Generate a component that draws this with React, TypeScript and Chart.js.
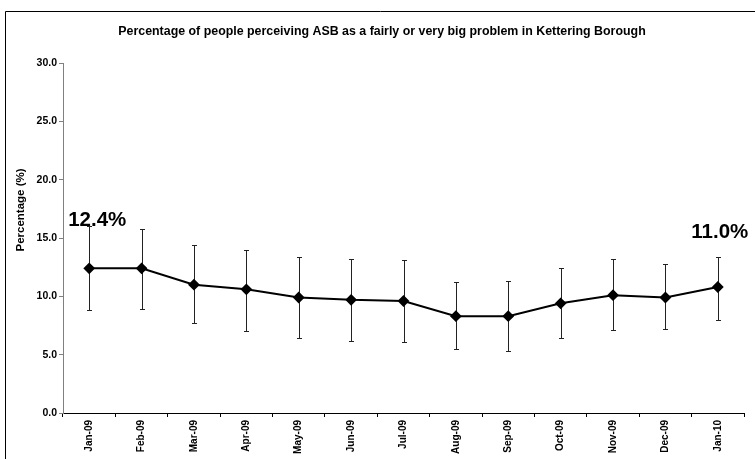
import React, { useEffect, useRef } from "react";
import { Chart, registerables } from "chart.js";

Chart.register(...registerables);

const TITLE = "Percentage of people perceiving ASB as a fairly or very big problem in Kettering Borough";
const Y_TITLE = "Percentage (%)";
const categories = ["Jan-09", "Feb-09", "Mar-09", "Apr-09", "May-09", "Jun-09", "Jul-09", "Aug-09", "Sep-09", "Oct-09", "Nov-09", "Dec-09", "Jan-10"];
const values = [12.4, 12.4, 11.0, 10.6, 9.9, 9.7, 9.6, 8.3, 8.3, 9.4, 10.1, 9.9, 10.8];
const upper = [16.0, 15.8, 14.4, 14.0, 13.4, 13.2, 13.1, 11.2, 11.3, 12.4, 13.2, 12.8, 13.4];
const lower = [8.8, 8.9, 7.7, 7.0, 6.4, 6.2, 6.1, 5.5, 5.3, 6.4, 7.1, 7.2, 8.0];
const callouts = [
  { index: 0, text: "12.4%" },
  { index: 12, text: "11.0%" },
];
const yTicks = [0, 5, 10, 15, 20, 25, 30];

const FONT = "'Liberation Sans', Arial, sans-serif";

const decorPlugin = {
  id: "decor",
  beforeDatasetsDraw(chart: any) {
    const ctx = chart.ctx;
    const y = chart.scales.y;
    const meta = chart.getDatasetMeta(0);
    ctx.save();
    ctx.strokeStyle = "#222";
    ctx.lineWidth = 1;
    meta.data.forEach((pt: any, i: number) => {
      const x = Math.round(pt.x) + 0.5;
      const yt = Math.round(y.getPixelForValue(upper[i])) + 0.5;
      const yb = Math.round(y.getPixelForValue(lower[i])) + 0.5;
      ctx.beginPath();
      ctx.moveTo(x, yt);
      ctx.lineTo(x, yb);
      ctx.moveTo(x - 2.5, yt);
      ctx.lineTo(x + 2.5, yt);
      ctx.moveTo(x - 2.5, yb);
      ctx.lineTo(x + 2.5, yb);
      ctx.stroke();
    });
    ctx.restore();
  },
  afterDraw(chart: any) {
    const ctx = chart.ctx;
    const meta = chart.getDatasetMeta(0);
    ctx.save();
    // frame
    ctx.strokeStyle = "#000";
    ctx.lineWidth = 1;
    ctx.beginPath();
    ctx.moveTo(5.5, 459);
    ctx.lineTo(5.5, 11.5);
    ctx.lineTo(755, 11.5);
    ctx.stroke();
    // title
    ctx.fillStyle = "#000";
    ctx.font = `bold 12.4px ${FONT}`;
    ctx.textAlign = "center";
    ctx.textBaseline = "middle";
    ctx.fillText(TITLE, 382, 32);
    // y title
    ctx.save();
    ctx.translate(21, 210);
    ctx.rotate(-Math.PI / 2);
    ctx.font = `bold 11.5px ${FONT}`;
    ctx.fillText(Y_TITLE, 0, 0);
    ctx.restore();
    // callouts
    ctx.font = `bold 20.5px ${FONT}`;
    ctx.textBaseline = "alphabetic";
    ctx.textAlign = "center";
    callouts.forEach((c, k) => {
      const pt = meta.data[c.index];
      if (k === 0) {
        ctx.fillText(c.text, pt.x + 8, pt.y - 42);
      } else {
        ctx.fillText(c.text, pt.x + 2, pt.y - 49);
      }
    });
    ctx.restore();
  },
};

export default function App() {
  const ref = useRef<HTMLCanvasElement>(null);
  useEffect(() => {
    if (!ref.current) return;
    const chart = new Chart(ref.current, {
      type: "line",
      data: {
        labels: categories,
        datasets: [
          {
            data: values,
            borderColor: "#000",
            borderWidth: 2,
            pointStyle: "rectRot",
            pointRadius: 4.5,
            pointBackgroundColor: "#000",
            pointBorderColor: "#000",
            tension: 0,
          },
        ],
      },
      options: {
        animation: false,
        responsive: false,
        devicePixelRatio: 1,
        layout: { padding: { top: 63, right: 11, left: 0, bottom: 0 } },
        plugins: { legend: { display: false }, title: { display: false }, tooltip: { enabled: false } },
        scales: {
          x: {
            type: "category",
            offset: true,
            grid: { offset: true, drawOnChartArea: false, drawTicks: true, tickLength: 4, color: "#000" },
            border: { color: "#000", width: 1 },
            ticks: {
              color: "#000",
              font: { family: FONT, size: 10, weight: "bold" },
              minRotation: 90,
              maxRotation: 90,
              padding: 3,
              autoSkip: false,
            },
            afterFit(scale: any) {
              scale.height = 46;
            },
          },
          y: {
            min: 0,
            max: 30,
            afterBuildTicks(scale: any) {
              scale.ticks = yTicks.map((v) => ({ value: v }));
            },
            grid: { drawOnChartArea: false, drawTicks: true, tickLength: 4, color: "#808080" },
            border: { color: "#808080", width: 1 },
            ticks: {
              color: "#000",
              font: { family: FONT, size: 10.5, weight: "bold" },
              padding: 2,
              callback: (v: any) => Number(v).toFixed(1),
            },
            afterFit(scale: any) {
              scale.width = 63;
            },
          },
        },
      },
      plugins: [decorPlugin],
    });
    return () => chart.destroy();
  }, []);
  return (
    <div style={{ position: "fixed", left: 0, top: 0, width: 755, height: 459, background: "#fff" }}>
      <canvas ref={ref} width={755} height={459} style={{ display: "block" }} />
    </div>
  );
}
